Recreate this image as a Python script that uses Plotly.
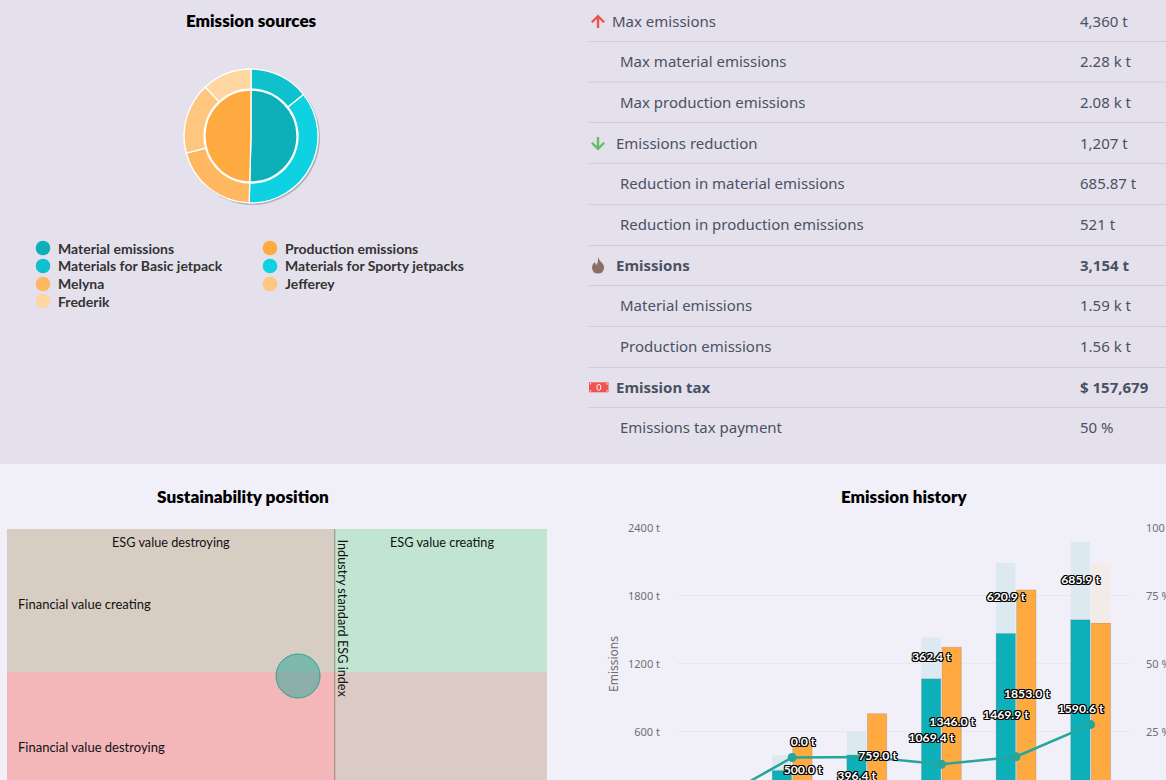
import plotly.graph_objects as go

W, H = 1166, 780
def px(x): return x / W
def py(y): return 1 - y / H

TITLE_FONT = "Lato"
BODY_FONT = "Noto Sans"
TICK_FONT = "Noto Sans"

# ---------- data ----------
inner_labels = ["Material emissions", "Production emissions"]
inner_values = [1590.6, 1563.0]
inner_colors = ["#0DB0B9", "#FFAA40"]
outer_labels = ["Materials for Basic jetpack", "Materials for Sporty jetpacks", "Melyna", "Jefferey", "Frederik"]
outer_values = [454.0, 1136.6, 644.0, 543.0, 376.0]
outer_colors = ["#0FC0CD", "#0ED2E2", "#FFB860", "#FFC680", "#FFD6A0"]

table_labels = ["Max emissions", "Max material emissions", "Max production emissions", "Emissions reduction",
                "Reduction in material emissions", "Reduction in production emissions", "Emissions",
                "Material emissions", "Production emissions", "Emission tax", "Emissions tax payment"]
table_values = ["4,360 t", "2.28 k t", "2.08 k t", "1,207 t", "685.87 t", "521 t", "3,154 t",
                "1.59 k t", "1.56 k t", "$ 157,679", "50 %"]
table_bold = [False, False, False, False, False, False, True, False, False, True, False]
table_text_x = [611.5, 620, 620, 615.5, 620, 620, 615.5, 620, 620, 615.5, 620]
table_row_y = [21, 61, 102, 143, 183, 224, 265, 305, 346, 387, 427]
table_rule_y = [41.5, 82, 122.5, 163.5, 204.5, 245.5, 285.5, 326.5, 367.5, 407.5]

periods = [0, 1, 2, 3, 4, 5]
material = [0, 259.0, 396.4, 1069.4, 1469.9, 1590.6]
material_reduction = [0, 133.0, 205.0, 362.4, 620.9, 685.9]
production = [0, 500.0, 759.0, 1346.0, 1853.0, 1560.0]
production_reduction = [0, 0, 0, 0, 0, 521.0]
tax_share = [0, 15.5, 15.7, 13.0, 15.8, 27.6]

emission_ticks = [600, 1200, 1800, 2400]
share_ticks = [25, 50, 75, 100]

esg_threshold = 60.7
financial_threshold = 50
position_x = [53.9]
position_y = [48.6]

# ---------- figure ----------
fig = go.Figure()

# nested pies
cx, cy, r_out, r_in = 251, 136, 67, 46
fig.add_trace(go.Pie(labels=outer_labels, values=outer_values, sort=False, direction="clockwise", rotation=0,
                     hole=(r_in + 1) / r_out, textinfo="none", showlegend=False,
                     marker=dict(colors=outer_colors, line=dict(color="white", width=1.3)),
                     domain=dict(x=[px(cx - r_out), px(cx + r_out)], y=[py(cy + r_out), py(cy - r_out)])))
fig.add_trace(go.Pie(labels=inner_labels, values=inner_values, sort=False, direction="clockwise", rotation=0,
                     textinfo="none", showlegend=False,
                     marker=dict(colors=inner_colors, line=dict(color="white", width=1.3)),
                     domain=dict(x=[px(cx - r_in), px(cx + r_in)], y=[py(cy + r_in), py(cy - r_in)])))

# sustainability position
fig.add_trace(go.Scatter(x=position_x, y=position_y, xaxis="x2", yaxis="y2", mode="markers", showlegend=False,
                         marker=dict(size=44, color="rgba(38,166,154,0.5)", line=dict(color="#26A69A", width=1))))

# emission history
bar_common = dict(xaxis="x", yaxis="y", showlegend=False)
fig.add_trace(go.Bar(x=periods, y=material, offsetgroup="m", marker=dict(color="#0DB0B9", line=dict(color="rgba(110,110,120,0.25)", width=1)), **bar_common))
fig.add_trace(go.Bar(x=periods, y=material_reduction, base=material, offsetgroup="m", marker=dict(color="#DCE9F0", line=dict(width=0)), **bar_common))
fig.add_trace(go.Bar(x=periods, y=production, offsetgroup="p", marker=dict(color="#FFAA40", line=dict(color="rgba(110,110,120,0.25)", width=1)), **bar_common))
fig.add_trace(go.Bar(x=periods, y=production_reduction, base=production, offsetgroup="p", marker=dict(color="#F3EBE8", line=dict(width=0)), **bar_common))
fig.add_trace(go.Scatter(x=periods, y=tax_share, xaxis="x", yaxis="y3", mode="lines+markers", showlegend=False,
                         line=dict(color="#26A69A", width=2.5), marker=dict(size=9, color="#26A69A")))

# value labels (plotted on the share axis, 2400 t = 100 %, so they stack above the line)
M_OFF, P_OFF = -0.135, 0.145
lx, ly, lt = [], [], []
for i in [2, 3, 4, 5]:
    lx.append(i + M_OFF); ly.append(material[i] / 2); lt.append(f"{material[i]:.1f} t")
for i in [3, 4, 5]:
    lx.append(i + M_OFF); ly.append(material[i] + material_reduction[i] / 2); lt.append(f"{material_reduction[i]:.1f} t")
for i in [1, 2, 3, 4]:
    lx.append(i + P_OFF); ly.append(production[i] / 2); lt.append(f"{production[i]:.1f} t")
lx.append(1 + P_OFF); ly.append(production[1] + production_reduction[1] / 2); lt.append(f"{production_reduction[1]:.1f} t")
OUT = "-1px -1px 0 #000,1px -1px 0 #000,-1px 1px 0 #000,1px 1px 0 #000,0 1px 0 #000,0 -1px 0 #000,1px 0 0 #000,-1px 0 0 #000"
fig.add_trace(go.Scatter(x=lx, y=[v / 24 for v in ly], text=lt, xaxis="x", yaxis="y3", mode="text", textposition="middle center", showlegend=False,
                         textfont=dict(family=TITLE_FONT, size=12.2, weight=700, color="white", shadow=OUT)))

ymin = 173
tickf = dict(family=TICK_FONT, size=11, color="#6E6E76")
fig.update_layout(
    width=W, height=H, autosize=False, margin=dict(l=0, r=0, t=0, b=0, pad=0),
    paper_bgcolor="#F1F0F9", plot_bgcolor="rgba(0,0,0,0)",
    barmode="group", bargap=0.45, bargroupgap=0.06,
    hovermode=False,
    xaxis=dict(domain=[px(677), px(1130)], range=[-0.543, 5.527], visible=False, fixedrange=True, automargin=False),
    yaxis=dict(domain=[0, py(528)], range=[ymin, 2400], tickvals=emission_ticks, ticktext=[f"{v} t" for v in emission_ticks], automargin=False,
               gridcolor="#E8E7EF", zeroline=False, showline=False, tickfont=tickf, ticks="", ticklabelstandoff=16, anchor="x"),
    yaxis3=dict(domain=[0, py(528)], range=[ymin / 24, 100], overlaying="y", side="right", anchor="x", tickvals=share_ticks, automargin=False,
                ticktext=[f"{v} %" for v in share_ticks], showgrid=False, zeroline=False, showline=False, tickfont=tickf, ticks="", ticklabelstandoff=15),
    xaxis2=dict(domain=[px(7), px(547)], range=[0, 100], visible=False, fixedrange=True, anchor="y2", automargin=False),
    yaxis2=dict(domain=[0, py(529)], range=[50 - 108 / 143 * 50, 100], visible=False, fixedrange=True, anchor="x2", automargin=False),
)

shapes = [
    dict(type="rect", xref="paper", yref="paper", x0=0, x1=1, y0=py(464), y1=1, fillcolor="#E4E1EC", line_width=0, layer="below"),
    dict(type="circle", xref="paper", yref="paper", x0=px(cx - r_out + 1), x1=px(cx + r_out + 2), y0=py(cy + r_out + 2), y1=py(cy - r_out + 1),
         fillcolor="rgba(90,90,100,0.35)", line_width=0, layer="below"),
]
def quad(x0, x1, y0, y1, c):
    shapes.append(dict(type="rect", xref="x2", yref="y2", x0=x0, x1=x1, y0=y0, y1=y1, fillcolor=c, line_width=0, layer="below"))
quad(0, esg_threshold, financial_threshold, 100, "#D8CDC3")
quad(esg_threshold, 100, financial_threshold, 100, "#C2E5D1")
quad(0, esg_threshold, 0, financial_threshold, "#F3B6B9")
quad(esg_threshold, 100, 0, financial_threshold, "#DCCBC4")
shapes.append(dict(type="line", xref="x2", yref="y2", x0=esg_threshold, x1=esg_threshold, y0=0, y1=100, line=dict(color="rgba(70,70,70,0.5)", width=1)))

for y in table_rule_y:
    shapes.append(dict(type="line", xref="paper", yref="paper", x0=px(589), x1=1, y0=py(y), y1=py(y), line=dict(color="#CFCCD7", width=1)))

def path(points, color):
    shapes.append(dict(type="path", xref="paper", yref="paper", fillcolor=color, line_width=0, path=points))
def P(x, y): return f"{px(x)},{py(y)}"

# icons
path("M" + P(598, 14.5) + "L" + P(605, 21.5) + "L" + P(603.3, 23) + "L" + P(599.2, 19) + "L" + P(599.2, 28) + "L" + P(596.8, 28) + "L" + P(596.8, 19)
     + "L" + P(592.7, 23) + "L" + P(591, 21.5) + "Z", "#EF5350")
path("M" + P(598, 150.5) + "L" + P(605, 143.5) + "L" + P(603.3, 142) + "L" + P(599.2, 146) + "L" + P(599.2, 137) + "L" + P(596.8, 137) + "L" + P(596.8, 146)
     + "L" + P(592.7, 142) + "L" + P(591, 143.5) + "Z", "#66BB6A")
path("M" + P(598, 257) + "Q" + P(599.5, 261) + " " + P(601, 262) + "Q" + P(604.5, 265) + " " + P(604, 268) + "Q" + P(603.5, 273.5) + " " + P(598, 273.5)
     + "Q" + P(592.5, 273.5) + " " + P(592, 268) + "Q" + P(592, 264) + " " + P(595, 262) + "Q" + P(595.5, 264.5) + " " + P(596.5, 265) + "Q" + P(598.5, 262) + " " + P(598, 257) + "Z", "#8D6E63")
shapes.append(dict(type="rect", xref="paper", yref="paper", x0=px(589), x1=px(608.5), y0=py(392.3), y1=py(382.3), fillcolor="#EF5350", line_width=0))
shapes.append(dict(type="circle", xref="paper", yref="paper", x0=px(596.8), x1=px(600.8), y0=py(390.3), y1=py(384.3), fillcolor="rgba(255,255,255,0)", line=dict(color="white", width=1)))
for dx, dy in [(590.5, 383.8), (607, 383.8), (590.5, 390.8), (607, 390.8)]:
    shapes.append(dict(type="rect", xref="paper", yref="paper", x0=px(dx - .6), x1=px(dx + .6), y0=py(dy + .6), y1=py(dy - .6), fillcolor="white", line_width=0))

ann = []
def text(x, y, s, size, color, family=BODY_FONT, weight=400, anchor="left", angle=0, yanchor="middle"):
    ann.append(dict(xref="paper", yref="paper", x=px(x), y=py(y), text=s, showarrow=False, xanchor=anchor, yanchor=yanchor, textangle=angle,
                    font=dict(family=family, size=size, color=color, weight=weight), borderpad=0, borderwidth=0))

# titles
text(251, 20, "Emission sources", 17, "#000", TITLE_FONT, 800, "center")
text(243, 497, "Sustainability position", 17.2, "#000", TITLE_FONT, 800, "center")
text(904, 497, "Emission history", 17, "#000", TITLE_FONT, 800, "center")

# pie legend
leg_entries = [(inner_labels[0], inner_colors[0], 43, 248, 249), (inner_labels[1], inner_colors[1], 270, 248, 249),
               (outer_labels[0], outer_colors[0], 43, 266, 265), (outer_labels[1], outer_colors[1], 270, 266, 265),
               (outer_labels[2], outer_colors[2], 43, 284, 283), (outer_labels[3], outer_colors[3], 270, 284, 283),
               (outer_labels[4], outer_colors[4], 43, 301, 302)]
for s, c, x, y, ty in leg_entries:
    shapes.append(dict(type="circle", xref="paper", yref="paper", x0=px(x - 7.3), x1=px(x + 7.3), y0=py(y + 7.3), y1=py(y - 7.3), fillcolor=c, line_width=0))
    text(x + 14.5, ty, s, 14, "#333333", TITLE_FONT, 700)

# table
for lab, val, b, x, y in zip(table_labels, table_values, table_bold, table_text_x, table_row_y):
    text(x, y, lab, 15, "#4A5163", BODY_FONT, 700 if b else 400)
    text(1080, y, val, 15, "#4A5163", BODY_FONT, 700 if b else 400)

# quadrant text
text(171, 541.5, "ESG value destroying", 12.7, "#111", TITLE_FONT, 400, "center")
text(441.5, 541.5, "ESG value creating", 12.7, "#111", TITLE_FONT, 400, "center")
text(18, 603.5, "Financial value creating", 13, "#111", TITLE_FONT, 400)
text(18, 746.5, "Financial value destroying", 13, "#111", TITLE_FONT, 400)
text(343, 618.5, "Industry standard ESG index", 12.7, "#111", TITLE_FONT, 400, "center", 90)

# emission axis title
text(613, 664, "Emissions", 12, "#6E6E76", TICK_FONT, 400, "center", -90)

fig.update_layout(shapes=shapes, annotations=ann)
fig.write_html("out.html", config=dict(displayModeBar=False), post_script="document.body.style.margin='0';document.body.style.overflow='hidden';")
